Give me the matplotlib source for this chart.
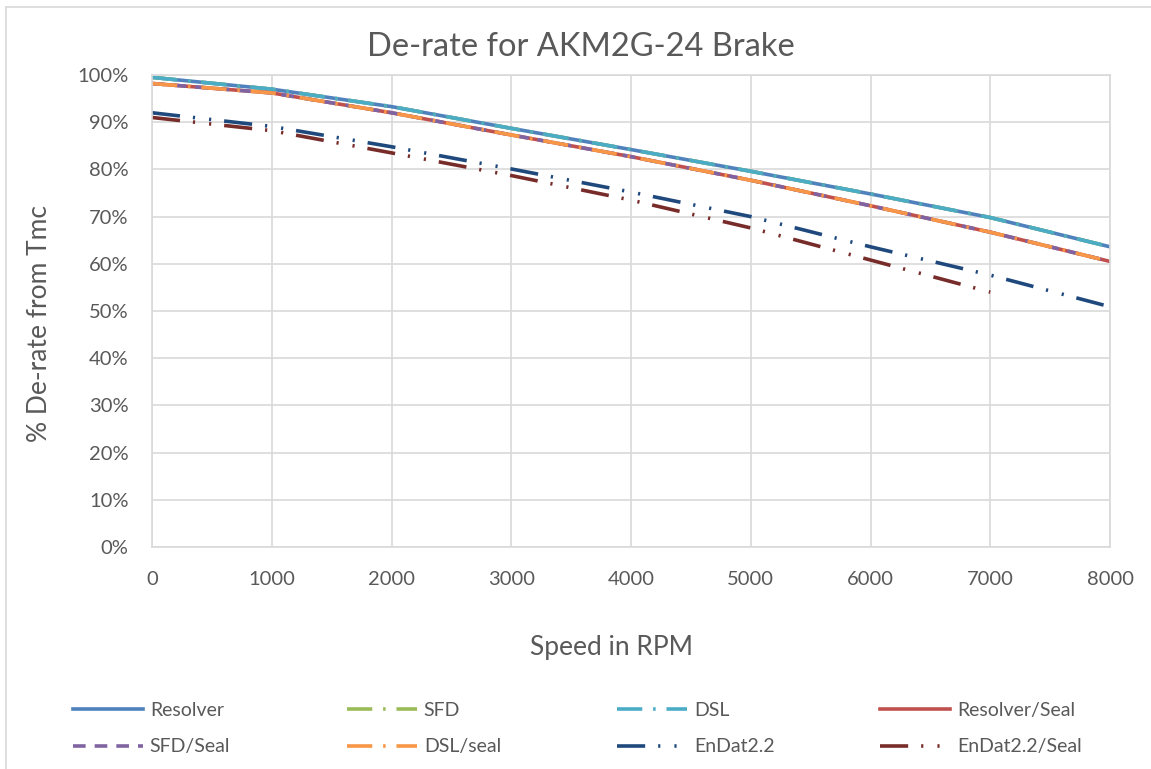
import matplotlib
matplotlib.use("Agg")
import matplotlib.pyplot as plt
from matplotlib.lines import Line2D
from matplotlib.ticker import PercentFormatter, MultipleLocator

plt.rcParams['font.family'] = ['Lato', 'DejaVu Sans']

# speed (RPM) and de-rate (% of Tmc)
rpm = [0, 1000, 2000, 3000, 4000, 5000, 6000, 7000, 8000]
rpm_endat_seal = [0, 1000, 2000, 3000, 4000, 5000, 6000, 7000]

resolver = [99.5, 97.0, 93.3, 88.7, 84.2, 79.6, 74.8, 69.8, 63.6]
sfd = [99.5, 97.0, 93.3, 88.7, 84.2, 79.6, 74.8, 69.8, 63.6]
dsl = [99.5, 97.0, 93.3, 88.7, 84.2, 79.6, 74.8, 69.8, 63.6]
resolver_seal = [98.2, 96.2, 92.0, 87.3, 82.7, 77.7, 72.3, 66.7, 60.5]
sfd_seal = [98.2, 96.2, 92.0, 87.3, 82.7, 77.7, 72.3, 66.7, 60.5]
dsl_seal = [98.2, 96.2, 92.0, 87.3, 82.7, 77.7, 72.3, 66.7, 60.5]
endat = [92.0, 89.1, 84.8, 80.1, 75.2, 70.0, 63.6, 57.6, 50.9]
endat_seal = [91.0, 88.2, 83.5, 78.7, 73.5, 67.6, 60.8, 54.0]

names = ['Resolver', 'SFD', 'DSL', 'Resolver/Seal',
         'SFD/Seal', 'DSL/seal', 'EnDat2.2', 'EnDat2.2/Seal']

txt = '#595959'
grid = '#d9d9d9'
lw = 2.6

dashdot = (0, (7, 3, 0.7, 3))
dashed = (0, (3.5, 2.5))
dashdotdot = (0, (7.8, 3.6, 0.6, 3.9, 0.6, 3.6))

series = [
    (rpm, resolver, '#4F81BD', '-'),
    (rpm, sfd, '#9BBB59', dashdot),
    (rpm, dsl, '#4BACC6', dashdot),
    (rpm, resolver_seal, '#C0504D', '-'),
    (rpm, sfd_seal, '#8064A2', dashed),
    (rpm, dsl_seal, '#F79646', dashdot),
    (rpm, endat, '#1F497D', dashdotdot),
    (rpm_endat_seal, endat_seal, '#772C2A', dashdotdot),
]

fig = plt.figure(figsize=(11.51, 7.69), dpi=100)
ax = fig.add_axes([152 / 1151, 1 - 547 / 769, (1110 - 152) / 1151, (547 - 75) / 769])

handles = []
for (x, y, c, ls), name in zip(series, names):
    line, = ax.plot(x, y, color=c, lw=lw, linestyle=ls, label=name)
    handles.append(line)

ax.set_xlim(0, 8000)
ax.set_ylim(0, 100)
ax.xaxis.set_major_locator(MultipleLocator(1000))
ax.yaxis.set_major_locator(MultipleLocator(10))
ax.yaxis.set_major_formatter(PercentFormatter(xmax=100, decimals=0))
ax.grid(True, color=grid, lw=1.2)
ax.set_axisbelow(True)
for s in ax.spines.values():
    s.set_color(grid)
    s.set_linewidth(1.2)
ax.tick_params(length=0, labelsize=14.5, labelcolor=txt)
ax.tick_params(axis='x', pad=17)
ax.tick_params(axis='y', pad=17)

fig.text(0.505, 1 - 47 / 769, 'De-rate for AKM2G-24 Brake', fontsize=23.5,
         color=txt, ha='center', va='center')
fig.text(611 / 1151, 1 - 647 / 769, 'Speed in RPM', fontsize=19,
         color=txt, ha='center', va='center')
fig.text(40 / 1151, 1 - 324 / 769, '% De-rate from Tmc', fontsize=19,
         color=txt, ha='center', va='center', rotation=90)

# legend: four columns of two rows, placed like the original
col_x = [73, 347, 617, 880]
for i, cx in enumerate(col_x):
    h = [handles[i], handles[i + 4]]
    leg = fig.legend(h, [hh.get_label() for hh in h], loc='upper left',
                     bbox_to_anchor=(cx / 1151, 1 - 702 / 769),
                     frameon=False, fontsize=14, borderpad=0, borderaxespad=0,
                     handlelength=3.6, handletextpad=0.35, labelspacing=1.0)
    for t in leg.get_texts():
        t.set_color(txt)

# chart frame
fig.add_artist(Line2D([6 / 1151, 6 / 1151], [0, 1 - 7 / 769], color=grid, lw=1.2))
fig.add_artist(Line2D([6 / 1151, 1], [1 - 7 / 769, 1 - 7 / 769], color=grid, lw=1.2))

fig.savefig('out.png', dpi=100)
